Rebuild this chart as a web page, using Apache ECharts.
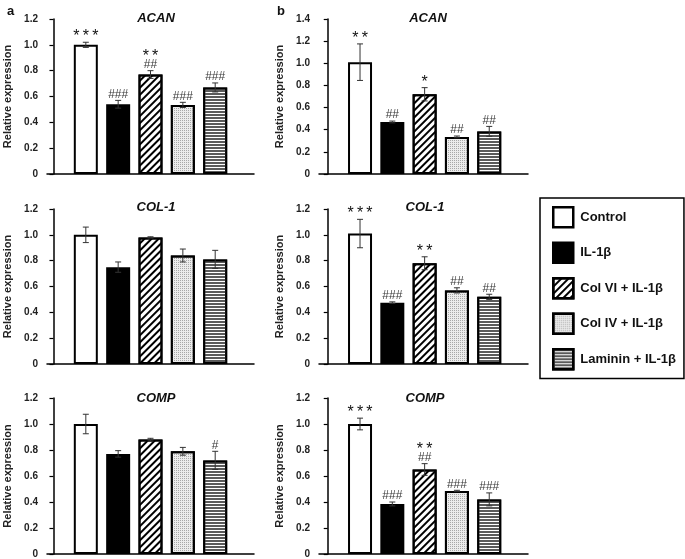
<!DOCTYPE html>
<html><head><meta charset="utf-8">
<script src="https://cdn.jsdelivr.net/npm/echarts@6/dist/echarts.min.js"></script>
<style>html,body{margin:0;padding:0;background:#fff}#c{width:685px;height:559px}</style>
</head><body><div id="c"></div><script>
// ---------- data ----------
const groups = ['Control', 'IL-1β', 'Col VI + IL-1β', 'Col IV + IL-1β', 'Laminin + IL-1β'];
const genes = ['ACAN', 'COL-1', 'COMP'];
const panelLetters = ['a', 'b'];
const yMaxA = [1.2, 1.2, 1.2];
const yMaxB = [1.4, 1.2, 1.2];

const aACAN    = [1.00, 0.54, 0.77, 0.535, 0.67];
const aACANErr = [0.02, 0.03, 0.03, 0.02, 0.035];
const aACANSig = ['***', '###', '**\n##', '###', '###'];
const aCOL1    = [1.00, 0.75, 0.98, 0.84, 0.81];
const aCOL1Err = [0.06, 0.04, 0.005, 0.05, 0.07];
const aCOL1Sig = ['', '', '', '', ''];
const aCOMP    = [1.00, 0.77, 0.88, 0.79, 0.72];
const aCOMPErr = [0.075, 0.025, 0.01, 0.03, 0.07];
const aCOMPSig = ['', '', '', '', '#'];

const bACAN    = [1.01, 0.47, 0.72, 0.335, 0.385];
const bACANErr = [0.165, 0.008, 0.06, 0.008, 0.045];
const bACANSig = ['**', '##', '*', '##', '##'];
const bCOL1    = [1.01, 0.475, 0.78, 0.57, 0.52];
const bCOL1Err = [0.11, 0.006, 0.05, 0.02, 0.02];
const bCOL1Sig = ['***', '###', '**', '##', '##'];
const bCOMP    = [1.00, 0.385, 0.65, 0.485, 0.42];
const bCOMPErr = [0.045, 0.015, 0.045, 0.005, 0.05];
const bCOMPSig = ['***', '###', '**\n##', '###', '###'];

// ---------- layout / styles ----------
const panels = [
  {v: aACAN, e: aACANErr, s: aACANSig, gene: 0, col: 0, row: 0, yMax: yMaxA[0]},
  {v: aCOL1, e: aCOL1Err, s: aCOL1Sig, gene: 1, col: 0, row: 1, yMax: yMaxA[1]},
  {v: aCOMP, e: aCOMPErr, s: aCOMPSig, gene: 2, col: 0, row: 2, yMax: yMaxA[2]},
  {v: bACAN, e: bACANErr, s: bACANSig, gene: 0, col: 1, row: 0, yMax: yMaxB[0]},
  {v: bCOL1, e: bCOL1Err, s: bCOL1Sig, gene: 1, col: 1, row: 1, yMax: yMaxB[1]},
  {v: bCOMP, e: bCOMPErr, s: bCOMPSig, gene: 2, col: 1, row: 2, yMax: yMaxB[2]}
];
const colLeft = [47, 319], colWidth = [207, 209], colXMin = [-0.2, -0.27];
const rowTop = [19, 209, 398], rowHeight = [155, 155, 156];
const titleCenter = [[151, 423], [151, 420], [151, 420]];
const titleTop = [7, 196, 387];

const FONT = 'Arial, "Liberation Sans", sans-serif';
const styles = [
  {color: '#fff'},
  {color: '#000'},
  {color: '#fff', decal: {symbol: 'rect', symbolSize: 1, color: '#000', dashArrayX: [1, 0], dashArrayY: [1.5, 2.3], rotation: -Math.PI / 4}},
  {color: '#ececec', decal: {symbol: 'rect', symbolSize: 1, color: '#a8a8a8', dashArrayX: [1, 1], dashArrayY: [1, 1], rotation: 0}},
  {color: '#fff', decal: {symbol: 'rect', symbolSize: 1, color: '#5a5a5a', dashArrayX: [1, 0], dashArrayY: [2, 1], rotation: 0}}
];

function errRenderer(sig) {
  return function (params, api) {
    const i = params.dataIndex;
    const x = api.value(0), v = api.value(1), e = api.value(2);
    const t = api.coord([x, v + e]), b = api.coord([x, v - e]);
    const cw = 3, st = {stroke: '#333', lineWidth: 1};
    const ch = [
      {type: 'line', shape: {x1: t[0], y1: t[1], x2: b[0], y2: b[1]}, style: st},
      {type: 'line', shape: {x1: t[0] - cw, y1: t[1], x2: t[0] + cw, y2: t[1]}, style: st},
      {type: 'line', shape: {x1: b[0] - cw, y1: b[1], x2: b[0] + cw, y2: b[1]}, style: st}
    ];
    const lines = sig[i] ? sig[i].split('\n').reverse() : [];
    let cy = t[1];
    lines.forEach(function (ln, k) {
      const star = ln.indexOf('*') >= 0;
      cy -= (k === 0) ? (star ? 9 : 6) : 12;
      const txt = star ? ln.split('').join('\u2009') : ln;
      ch.push({
        type: 'text',
        style: {
          text: txt, x: t[0], y: star ? cy + 3.5 : cy,
          textAlign: 'center', textVerticalAlign: 'middle',
          font: (star ? 'normal 16px ' : 'normal 12px ') + FONT,
          fill: star ? '#111' : '#3a3a3a'
        }
      });
    });
    return {type: 'group', children: ch};
  };
}

const grid = [], xAxis = [], yAxis = [], series = [], title = [];
panels.forEach(function (p, k) {
  grid.push({left: colLeft[p.col], top: rowTop[p.row], width: colWidth[p.col], height: rowHeight[p.row]});
  xAxis.push({
    type: 'value', gridIndex: k, min: colXMin[p.col], max: 6.2,
    axisLine: {show: true, onZero: false, lineStyle: {color: '#000', width: 1.5}},
    axisTick: {show: false}, axisLabel: {show: false}, splitLine: {show: false}
  });
  yAxis.push({
    type: 'value', gridIndex: k, min: 0, max: p.yMax, interval: 0.2,
    name: 'Relative expression', nameLocation: 'middle', nameGap: 34,
    nameTextStyle: {fontFamily: FONT, fontSize: 11, fontWeight: 'bold', color: '#222'},
    axisLine: {show: true, lineStyle: {color: '#000', width: 1.5}},
    axisTick: {show: true, inside: false, length: 4, lineStyle: {color: '#000', width: 1.2}},
    axisLabel: {margin: 9, fontFamily: FONT, fontSize: 10, fontWeight: 'bold', color: '#222',
      formatter: function (val) { return val === 0 ? '0' : val.toFixed(1); }},
    splitLine: {show: false}
  });
  title.push({
    text: genes[p.gene], left: titleCenter[p.row][p.col], top: titleTop[p.row], textAlign: 'center',
    textStyle: {fontFamily: FONT, fontSize: 13, fontWeight: 'bold', fontStyle: 'italic', color: '#111'}
  });
  groups.forEach(function (g, j) {
    series.push({
      type: 'bar', name: g, xAxisIndex: k, yAxisIndex: k,
      data: [[j + 1, p.v[j]]], barWidth: 24, barGap: '-100%',
      itemStyle: Object.assign({borderColor: '#000', borderWidth: 2}, styles[j]),
      emphasis: {disabled: true}, silent: true
    });
  });
  series.push({
    type: 'custom', name: 'err' + k, xAxisIndex: k, yAxisIndex: k, z: 10, silent: true,
    data: p.v.map(function (val, j) { return [j + 1, val, p.e[j]]; }),
    encode: {x: 0, y: 1}, renderItem: errRenderer(p.s)
  });
});
title.push({text: panelLetters[0], left: 2, top: 0, textStyle: {fontFamily: FONT, fontSize: 13, fontWeight: 'bold', color: '#111'}});
title.push({text: panelLetters[1], left: 272, top: 0, textStyle: {fontFamily: FONT, fontSize: 13, fontWeight: 'bold', color: '#111'}});

const chart = echarts.init(document.getElementById('c'), null, {renderer: 'canvas'});
chart.setOption({
  animation: false,
  backgroundColor: '#fff',
  title: title, grid: grid, xAxis: xAxis, yAxis: yAxis, series: series,
  legend: {
    data: groups, orient: 'vertical', left: 540, top: 198,
    icon: 'rect', itemWidth: 20, itemHeight: 20, itemGap: 13,
    padding: [8, 8, 8, 12], borderColor: '#000', borderWidth: 1.5,
    selectedMode: false,
    itemStyle: {borderColor: '#000', borderWidth: 2.5},
    textStyle: {fontFamily: FONT, fontSize: 13, fontWeight: 'bold', color: '#111', padding: [0, 0, 0, 2]}
  }
});
</script></body></html>
